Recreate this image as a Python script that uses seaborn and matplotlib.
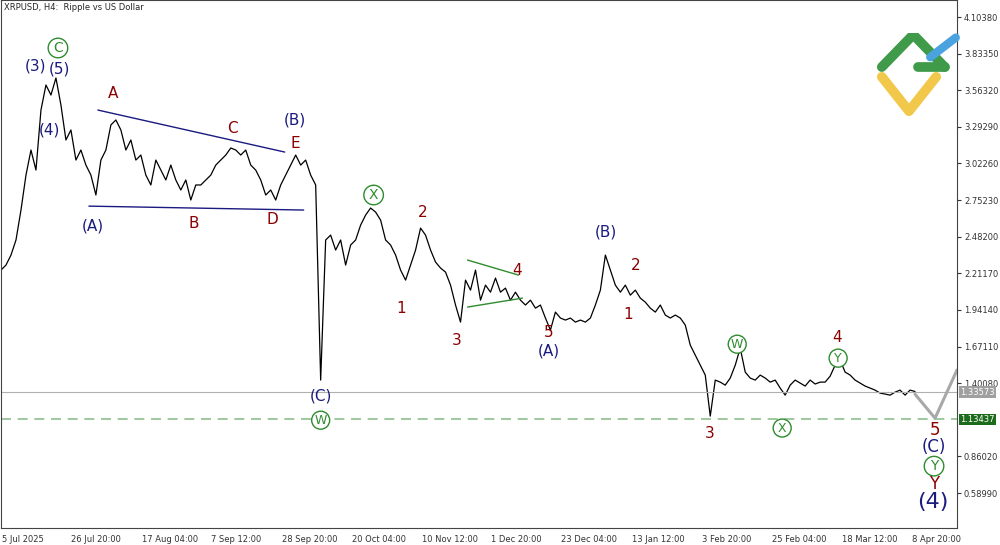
import matplotlib
matplotlib.use("Agg")
import matplotlib.pyplot as plt
import seaborn as sns
import pandas as pd
import numpy as np

price = [2.236,2.273,2.347,2.458,2.679,2.937,3.122,2.974,3.417,3.602,3.528,3.654,3.454,3.196,3.270,3.048,3.122,3.011,2.937,2.790,
3.048,3.122,3.307,3.344,3.270,3.122,3.196,3.048,3.085,2.937,2.864,3.048,2.974,2.901,3.011,2.901,2.827,2.901,2.753,2.864,
2.864,2.901,2.937,3.011,3.048,3.085,3.137,3.122,3.085,3.122,3.011,2.974,2.901,2.790,2.827,2.753,2.864,2.937,3.011,3.085,
3.011,3.048,2.937,2.864,1.424,2.458,2.494,2.384,2.458,2.273,2.421,2.458,2.568,2.642,2.694,2.664,2.605,2.458,2.421,2.347,
2.236,2.162,2.273,2.384,2.546,2.494,2.384,2.295,2.251,2.221,2.125,1.978,1.852,2.162,2.088,2.236,2.014,2.125,2.073,2.177,
2.073,2.103,2.014,2.073,2.014,1.978,2.014,1.955,1.978,1.882,1.793,1.926,1.882,1.867,1.882,1.852,1.867,1.852,1.882,1.978,
2.088,2.347,2.236,2.125,2.073,2.125,2.051,2.088,2.029,1.999,1.955,1.926,1.978,1.904,1.882,1.904,1.882,1.830,1.682,1.608,
1.534,1.461,1.158,1.424,1.409,1.387,1.439,1.534,1.660,1.483,1.439,1.424,1.461,1.439,1.409,1.424,1.365,1.313,1.387,1.424,
1.402,1.380,1.424,1.395,1.409,1.409,1.453,1.534,1.571,1.483,1.461,1.424,1.402,1.380,1.365,1.350,1.328,1.321,1.313,1.335,
1.350,1.313,1.350,1.340]

y_ticks = [4.10380,3.83350,3.56320,3.29290,3.02260,2.75230,2.48200,2.21170,1.94140,1.67110,1.40080,0.86020,0.58990]
x_labels = ["5 Jul 2025","26 Jul 20:00","17 Aug 04:00","7 Sep 12:00","28 Sep 20:00","20 Oct 04:00","10 Nov 12:00",
            "1 Dec 20:00","23 Dec 04:00","13 Jan 12:00","3 Feb 20:00","25 Feb 04:00","18 Mar 12:00","8 Apr 20:00"]
x_label_pos = [0.2,14.0,28.2,42.0,56.2,70.2,84.2,98.2,112.2,126.4,140.4,154.4,168.4,182.4]
current_price = 1.33573
support = 1.13437

RED, NAVY, GRN = "#8b0000", "#1a1a80", "#2e8b2e"
labels = [
    (11.4,3.875,"C",GRN,12,True),(7.0,3.745,"(3)",NAVY,11,False),(11.6,3.720,"(5)",NAVY,11,False),(9.6,3.270,"(4)",NAVY,11,False),
    (22.4,3.536,"A",RED,11,False),(46.4,3.278,"C",RED,11,False),(59.0,3.167,"E",RED,11,False),(58.8,3.344,"(B)",NAVY,11,False),
    (18.4,2.558,"(A)",NAVY,11,False),(38.6,2.580,"B",RED,11,False),(54.4,2.610,"D",RED,11,False),
    (74.6,2.790,"X",GRN,12,True),(84.4,2.664,"2",RED,11,False),(80.2,1.955,"1",RED,11,False),(91.2,1.719,"3",RED,11,False),
    (103.4,2.236,"4",RED,11,False),(109.6,1.778,"5",RED,11,False),(109.6,1.638,"(A)",NAVY,11,False),
    (121.2,2.517,"(B)",NAVY,11,False),(127.0,2.273,"2",RED,11,False),(125.6,1.911,"1",RED,11,False),(141.8,1.033,"3",RED,11,False),
    (147.4,1.689,"W",GRN,11,True),(156.4,1.070,"X",GRN,11,True),(167.4,1.741,"4",RED,11,False),(167.6,1.586,"Y",GRN,11,True),
    (64.0,1.306,"(C)",NAVY,11,False),(64.0,1.128,"W",GRN,11,True),
    (187.0,1.055,"5",RED,12,False),(186.8,0.930,"(C)",NAVY,12,False),(186.8,0.789,"Y",GRN,12,True),
    (186.8,0.656,"Y",RED,12,False),(186.6,0.523,"(4)",NAVY,16,False),
]
tri_lines = [((19.4,3.417),(56.8,3.107),NAVY),((17.6,2.708),(60.6,2.679),NAVY),
             ((93.4,2.310),(103.6,2.199),GRN),((93.4,1.963),(104.4,2.029),GRN)]
projection_x = [183.0,187.0,191.4]
projection_y = [1.320,1.143,1.498]

fig = plt.figure(figsize=(10,5.45), dpi=100)
sns.set_style("white")
plt.rcParams['font.family'] = ['DejaVu Sans']
ax = fig.add_axes([0.001,0.031,0.956,0.969])
df = pd.DataFrame({"i": np.arange(len(price)), "p": price})
sns.lineplot(data=df, x="i", y="p", ax=ax, color="black", linewidth=0.9)
ax.set_xlim(0,191.4); ax.set_ylim(0.3316,4.2293)
ax.axhline(current_price, color="#b0b0b0", lw=0.8)
ax.axhline(support, color="#8fbf8f", lw=1.2, ls=(0,(6,4)))
ax.plot(projection_x, projection_y, color="#a8a8a8", lw=2.2)
for (a,b,c) in tri_lines:
    ax.plot([a[0],b[0]],[a[1],b[1]],color=c,lw=1)
for x,y,t,c,s,circ in labels:
    if circ:
        ax.text(x,y,t,color=c,fontsize=s-2,ha="center",va="center",
                bbox=dict(boxstyle="circle,pad=0.2",fc="white",ec=c,lw=1))
    else:
        ax.text(x,y,t,color=c,fontsize=s,ha="center",va="center")
ax.yaxis.tick_right()
ax.set_yticks(y_ticks); ax.set_yticklabels([f"{v:.5f}" for v in y_ticks], fontsize=6)
ax.set_xticks(x_label_pos); ax.set_xticklabels(x_labels, fontsize=6, ha="left")
ax.tick_params(length=3, pad=2, colors="#333333")
ax.set_xlabel(""); ax.set_ylabel("")
for s in ax.spines.values(): s.set_color("#444444"); s.set_linewidth(0.8)
ax.text(0.003,0.995,"XRPUSD, H4:  Ripple vs US Dollar",transform=ax.transAxes,fontsize=6,va="top")
for v,fc,tc in [(current_price,"#a0a0a0","white"),(support,"#1d6b1d","white")]:
    ax.text(1.003,v,f"{v:.5f}",transform=ax.get_yaxis_transform(),fontsize=6,va="center",ha="left",
            color=tc,bbox=dict(boxstyle="square,pad=0.15",fc=fc,ec="none"))
lx = fig.add_axes([0.875,0.76,0.085,0.18]); lx.axis("off"); lx.set_xlim(0,10); lx.set_ylim(0,10)
lx.plot([0.8,4,7.2],[5.5,2,5.5],color="#f2c84b",lw=7,solid_capstyle="round")
lx.plot([0.8,4.5,8.2],[6.5,9.8,6.5],color="#3f9a4a",lw=7,solid_capstyle="round")
lx.plot([5,8.2],[6.5,6.5],color="#3f9a4a",lw=7,solid_capstyle="round")
lx.plot([6.5,9.5],[7.5,9.5],color="#4aa3df",lw=6,solid_capstyle="round")
fig.savefig("out.png", dpi=100)
